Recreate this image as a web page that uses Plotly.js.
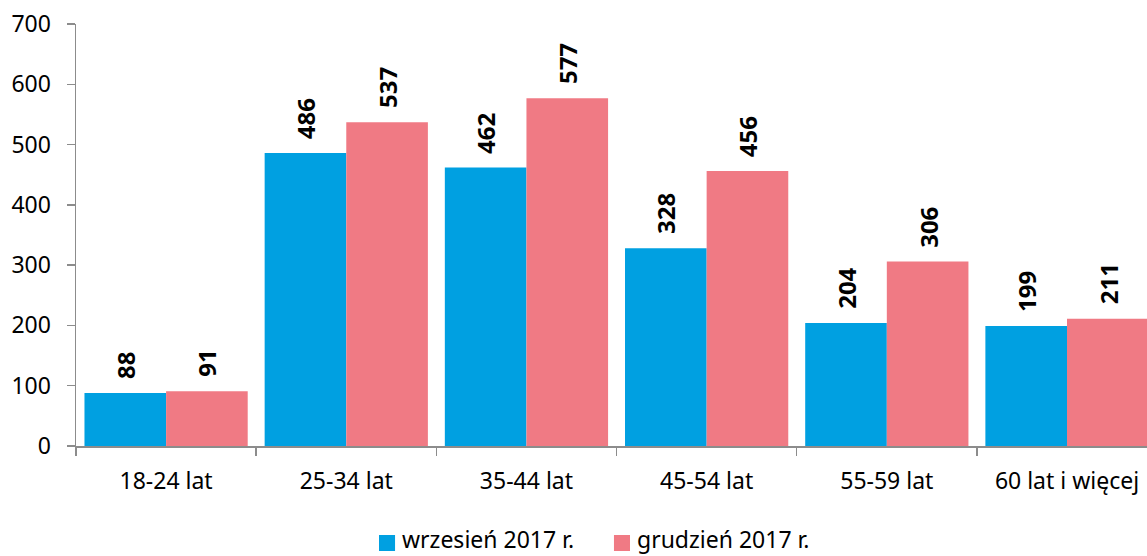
<!DOCTYPE html>
<html>
<head>
<meta charset="utf-8">
<script src="https://cdn.plot.ly/plotly-3.0.1.min.js"></script>
<style>html,body{margin:0;padding:0;background:#fff}#chart{width:1147px;height:556px}</style>
</head>
<body>
<div id="chart"></div>
<script>
var categories = ["18-24 lat", "25-34 lat", "35-44 lat", "45-54 lat", "55-59 lat", "60 lat i więcej"];
var seriesNames = ["wrzesień 2017 r.", "grudzień 2017 r."];
var september = [88, 486, 462, 328, 204, 199];
var december = [91, 537, 577, 456, 306, 211];
var yTicks = [0, 100, 200, 300, 400, 500, 600, 700];

var FONT = "Noto Sans, Open Sans, sans-serif";
var colors = ["#00A0E1", "#F07A84"];

var traces = [
  {type: "bar", name: seriesNames[0], x: categories, y: september, marker: {color: colors[0], line: {width: 0}}},
  {type: "bar", name: seriesNames[1], x: categories, y: december, marker: {color: colors[1], line: {width: 0}}}
];

var annotations = [];
[september, december].forEach(function (vals, s) {
  vals.forEach(function (v, i) {
    annotations.push({
      x: categories[i], y: v, xref: "x", yref: "y",
      text: "<b>" + v + "</b>", showarrow: false, textangle: -90,
      xanchor: "center", yanchor: "bottom",
      xshift: s === 0 ? -40.5 : 41, yshift: 12,
      font: {family: FONT, size: 24, color: "#000"}
    });
  });
});

// custom legend (square + label), positioned in paper coordinates
var legendPos = [
  {sq: [0.2829, 0.2979], tx: 0.3035},
  {sq: [0.5023, 0.5173], tx: 0.5230}
];
var shapes = [];
seriesNames.forEach(function (name, s) {
  shapes.push({type: "rect", xref: "paper", yref: "paper",
    x0: legendPos[s].sq[0], x1: legendPos[s].sq[1], y0: -0.2488, y1: -0.2109,
    fillcolor: colors[s], line: {width: 0}});
  annotations.push({xref: "paper", yref: "paper", x: legendPos[s].tx, y: -0.2600,
    xanchor: "left", yanchor: "bottom", showarrow: false, text: name,
    borderpad: 0,
    font: {family: FONT, size: 23, color: "#000"}});
});

var layout = {
  width: 1147, height: 556,
  margin: {l: 76, r: 0, t: 24, b: 110},
  paper_bgcolor: "#fff", plot_bgcolor: "#fff",
  barmode: "group", bargap: 0.094, bargroupgap: 0,
  font: {family: FONT, color: "#000"},
  showlegend: false,
  xaxis: {
    type: "category", range: [-0.5, 5.444],
    showline: true, linecolor: "#8c8c8c", linewidth: 1.5,
    ticks: "outside", tickson: "boundaries", ticklen: 8, tickcolor: "#8c8c8c", tickwidth: 1.5,
    tickfont: {family: FONT, size: 23, color: "#000"},
    ticklabelstandoff: 14,
    showgrid: false, zeroline: false, fixedrange: true
  },
  yaxis: {
    range: [0, 700], tickvals: yTicks, ticktext: yTicks.map(String),
    showline: true, linecolor: "#8c8c8c", linewidth: 1.5,
    ticks: "outside", ticklen: 8, tickcolor: "#8c8c8c", tickwidth: 1.5,
    tickfont: {family: FONT, size: 23, color: "#000"},
    ticklabelstandoff: 11,
    showgrid: false, zeroline: false, fixedrange: true
  },
  shapes: shapes,
  annotations: annotations
};

Plotly.newPlot("chart", traces, layout, {displayModeBar: false, staticPlot: true});
</script>
</body>
</html>
